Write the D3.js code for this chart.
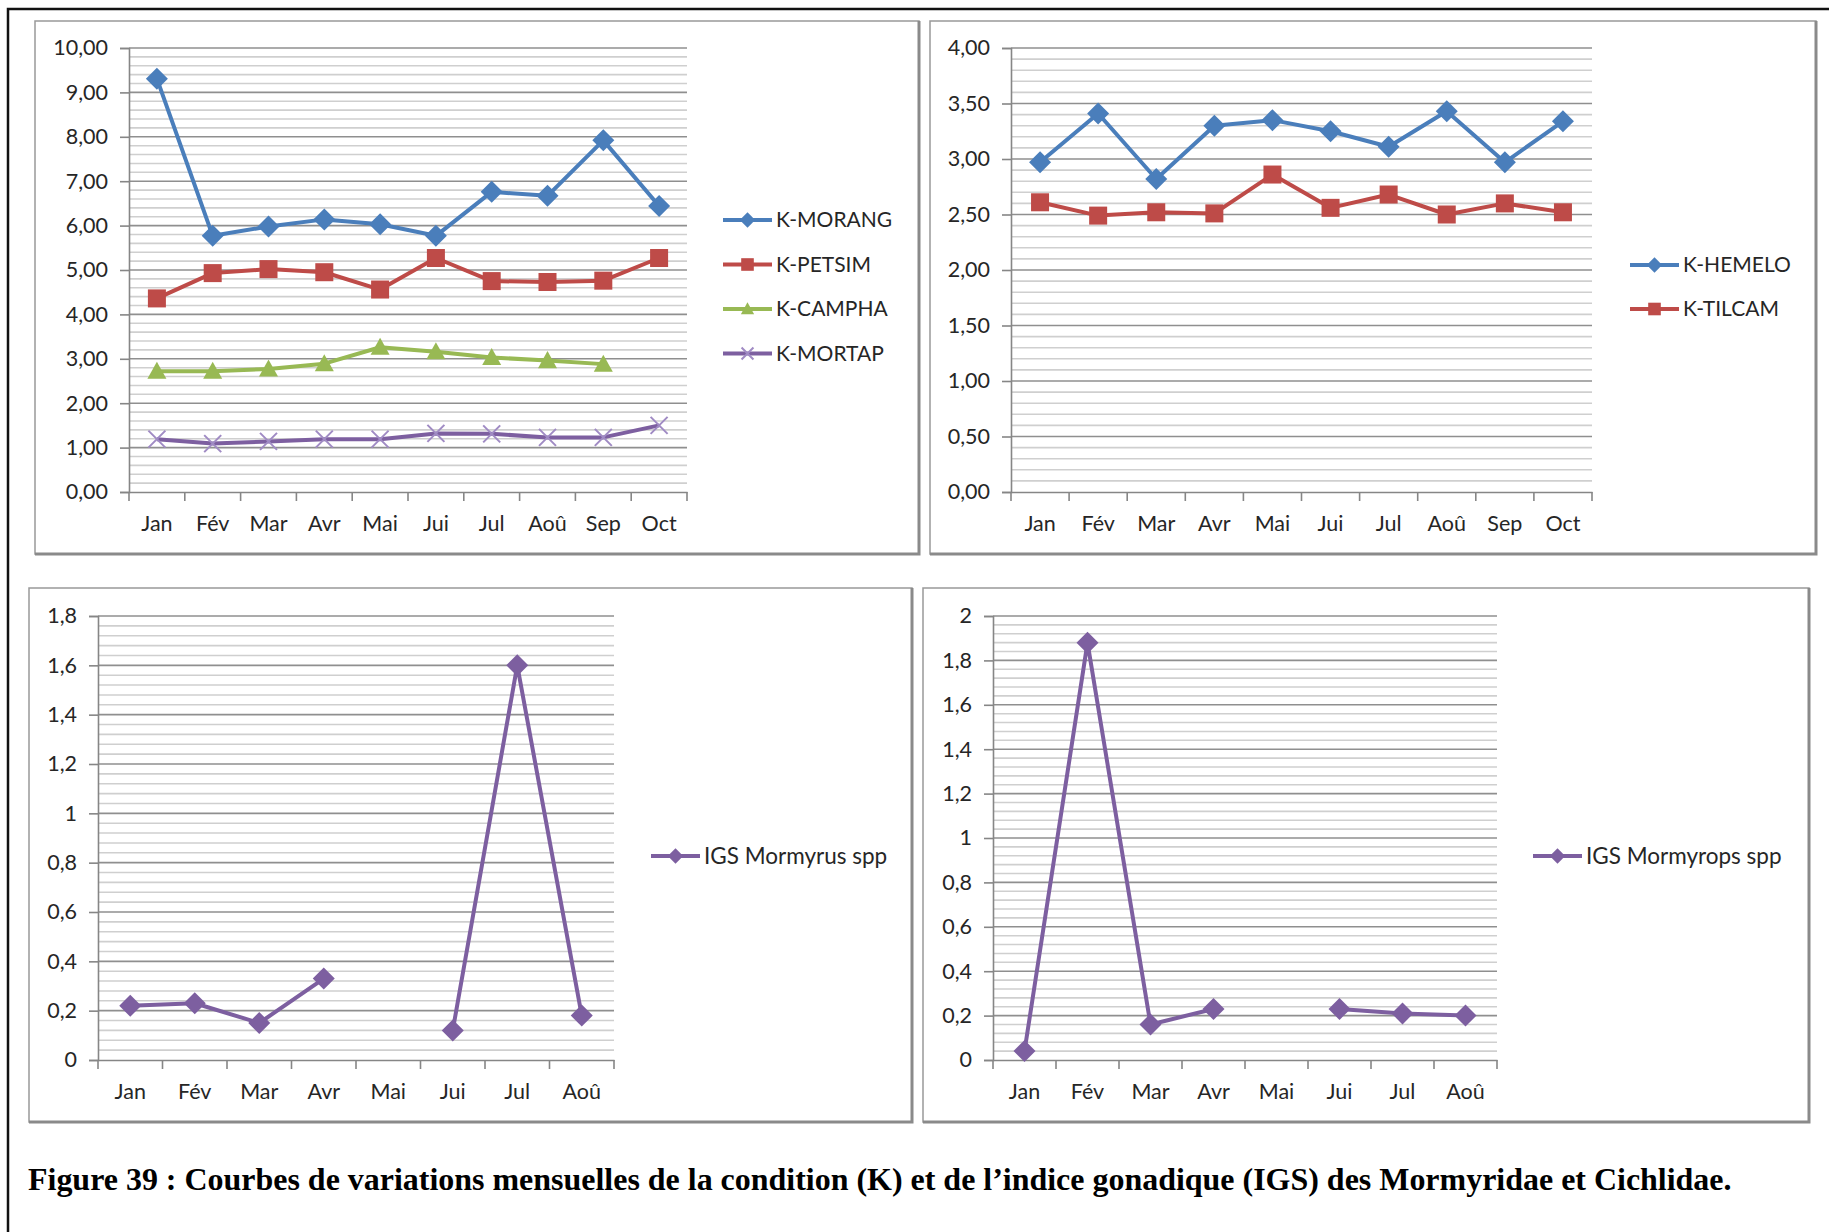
<!DOCTYPE html>
<html><head><meta charset="utf-8">
<script src="https://cdn.jsdelivr.net/npm/d3@7"></script>
<style>
html,body{margin:0;padding:0;background:#fff;}
svg{display:block;}
</style></head>
<body>
<svg id="fig" width="1829" height="1232"></svg>
<script>
// ---------- DATA ----------
const monthsK = ["Jan","Fév","Mar","Avr","Mai","Jui","Jul","Aoû","Sep","Oct"];
const monthsIGS = ["Jan","Fév","Mar","Avr","Mai","Jui","Jul","Aoû"];

const kMorang = [9.31, 5.77, 5.98, 6.14, 6.03, 5.77, 6.76, 6.67, 7.92, 6.44];
const kPetsim = [4.36, 4.93, 5.02, 4.95, 4.56, 5.27, 4.75, 4.73, 4.76, 5.27];
const kCampha = [2.72, 2.72, 2.77, 2.89, 3.26, 3.16, 3.03, 2.96, 2.88, null];
const kMortap = [1.19, 1.09, 1.14, 1.19, 1.19, 1.32, 1.31, 1.23, 1.23, 1.50];

const kHemelo = [2.97, 3.41, 2.82, 3.30, 3.35, 3.25, 3.11, 3.43, 2.97, 3.34];
const kTilcam = [2.61, 2.49, 2.52, 2.51, 2.86, 2.56, 2.68, 2.50, 2.60, 2.52];

const igsMormyrus  = [0.22, 0.23, 0.15, 0.33, null, 0.12, 1.60, 0.18];
const igsMormyrops = [0.04, 1.88, 0.16, 0.23, null, 0.23, 0.21, 0.20];

const ticksK1 = [0,1,2,3,4,5,6,7,8,9,10];
const ticksK2 = [0,0.5,1,1.5,2,2.5,3,3.5,4];
const ticksIGS1 = [0,0.2,0.4,0.6,0.8,1,1.2,1.4,1.6,1.8];
const ticksIGS2 = [0,0.2,0.4,0.6,0.8,1,1.2,1.4,1.6,1.8,2];

const captionText = "Figure 39 : Courbes de variations mensuelles de la condition (K) et de l\u2019indice gonadique (IGS) des Mormyridae et Cichlidae.";

// ---------- STYLE ----------
const C = {blue:"#4A7EBB", red:"#BE4B48", green:"#98B954", purple:"#7D5FA0", purpleLight:"#A08BC4"};
const FONT = "Lato, 'Open Sans', sans-serif";
const svg = d3.select("#fig");

const fmt2 = v => d3.format(".2f")(v).replace(".", ",");
const fmtG = v => String(+v.toFixed(2)).replace(".", ",");

function marker(g, type, x, y, color, s) {
  s = s || 1;
  if (type === "diamond") {
    const r = 11 * s;
    g.append("path").attr("d", `M${x},${y-r}L${x+r},${y}L${x},${y+r}L${x-r},${y}Z`).attr("fill", color);
  } else if (type === "square") {
    const h = 9 * s;
    g.append("rect").attr("x", x-h).attr("y", y-h).attr("width", 2*h).attr("height", 2*h).attr("fill", color);
  } else if (type === "triangle") {
    const h = 9.5 * s;
    g.append("path").attr("d", `M${x},${y-h}L${x+h},${y+h*0.8}L${x-h},${y+h*0.8}Z`).attr("fill", color);
  } else if (type === "x") {
    const h = 8.5 * s;
    g.append("path").attr("d", `M${x-h},${y-h}L${x+h},${y+h}M${x-h},${y+h}L${x+h},${y-h}`)
      .attr("stroke", C.purpleLight).attr("stroke-width", 2).attr("fill", "none");
  }
}

function panel(cfg) {
  const g = svg.append("g");
  const b = cfg.box;
  g.append("rect").attr("x", b[0]).attr("y", b[1]).attr("width", b[2]-b[0]).attr("height", b[3]-b[1])
    .attr("fill", "#fff").attr("stroke", "#999").attr("stroke-width", 1.5);
  g.append("path").attr("d", `M${b[2]},${b[1]}L${b[2]},${b[3]}L${b[0]},${b[3]}`)
    .attr("stroke", "#8a8a8a").attr("stroke-width", 3).attr("fill", "none");

  const p = cfg.plot;
  const x = d3.scaleBand().domain(cfg.cats).range([p[0], p[2]]);
  const y = d3.scaleLinear().domain([0, cfg.ticks[cfg.ticks.length-1]]).range([p[3], p[1]]);

  const step = cfg.ticks[1] - cfg.ticks[0];
  const minor = [];
  for (let i = 0; i < cfg.ticks.length - 1; i++)
    for (let k = 1; k < 5; k++) minor.push(cfg.ticks[i] + step * k / 5);
  g.append("g").selectAll("line").data(minor).join("line")
    .attr("x1", p[0]).attr("x2", p[2]).attr("y1", d => y(d)).attr("y2", d => y(d))
    .attr("stroke", "#cfcfcf").attr("stroke-width", 1.6);
  g.append("g").selectAll("line").data(cfg.ticks.slice(1)).join("line")
    .attr("x1", p[0]).attr("x2", p[2]).attr("y1", d => y(d)).attr("y2", d => y(d))
    .attr("stroke", "#8f8f8f").attr("stroke-width", 1.6);

  const ya = g.append("g").attr("transform", `translate(${p[0]},0)`)
    .call(d3.axisLeft(y).tickValues(cfg.ticks).tickFormat(cfg.fmt).tickSize(9).tickPadding(12));
  ya.select(".domain").attr("stroke", "#868686").attr("stroke-width", 1.6);
  ya.selectAll(".tick line").attr("stroke", "#868686").attr("stroke-width", 1.6);
  ya.selectAll("text").attr("font-family", FONT).attr("font-size", 21.5).attr("fill", "#262626");

  const xa = g.append("g").attr("transform", `translate(0,${p[3]})`)
    .call(d3.axisBottom(x).tickSize(0).tickPadding(24));
  xa.select(".domain").attr("stroke", "#868686").attr("stroke-width", 1.6);
  xa.selectAll("text").attr("font-family", FONT).attr("font-size", 21.5).attr("fill", "#262626");
  const bounds = cfg.cats.map(c => x(c)).concat([p[2]]);
  g.append("g").selectAll("line").data(bounds).join("line")
    .attr("x1", d => d).attr("x2", d => d).attr("y1", p[3]).attr("y2", p[3] + 9)
    .attr("stroke", "#868686").attr("stroke-width", 1.6);

  cfg.series.forEach(s => {
    const pts = s.values.map((v, i) => ({c: cfg.cats[i], v}));
    const line = d3.line().defined(d => d.v != null)
      .x(d => x(d.c) + x.bandwidth()/2).y(d => y(d.v));
    g.append("path").datum(pts).attr("d", line).attr("fill", "none")
      .attr("stroke", s.color).attr("stroke-width", 4).attr("stroke-linejoin", "round");
    const mg = g.append("g");
    pts.filter(d => d.v != null).forEach(d => marker(mg, s.marker, x(d.c) + x.bandwidth()/2, y(d.v), s.color));
  });

  cfg.series.forEach((s, i) => {
    const ly = cfg.legend.y0 + i * cfg.legend.dy;
    const lx = cfg.legend.x;
    g.append("line").attr("x1", lx).attr("x2", lx + 49).attr("y1", ly).attr("y2", ly)
      .attr("stroke", s.color).attr("stroke-width", 4);
    marker(g, s.marker, lx + 24.5, ly, s.color, 0.7);
    g.append("text").attr("x", lx + 53).attr("y", ly).attr("dy", "0.35em")
      .attr("font-family", FONT).attr("font-size", cfg.legend.fs).attr("fill", "#262626").text(s.name);
  });
}

svg.append("path").attr("d", "M8,1232L8,9L1829,9").attr("fill", "none")
  .attr("stroke", "#111").attr("stroke-width", 2.5);

panel({
  box: [35, 21, 919, 554], plot: [129, 48, 687, 492], cats: monthsK, ticks: ticksK1, fmt: fmt2,
  series: [
    {name: "K-MORANG", values: kMorang, color: C.blue, marker: "diamond"},
    {name: "K-PETSIM", values: kPetsim, color: C.red, marker: "square"},
    {name: "K-CAMPHA", values: kCampha, color: C.green, marker: "triangle"},
    {name: "K-MORTAP", values: kMortap, color: C.purple, marker: "x"}
  ],
  legend: {x: 723, y0: 220, dy: 44.5, fs: 21}
});

panel({
  box: [930, 21, 1816, 554], plot: [1011, 48, 1592, 492], cats: monthsK, ticks: ticksK2, fmt: fmt2,
  series: [
    {name: "K-HEMELO", values: kHemelo, color: C.blue, marker: "diamond"},
    {name: "K-TILCAM", values: kTilcam, color: C.red, marker: "square"}
  ],
  legend: {x: 1630, y0: 265, dy: 44, fs: 21}
});

panel({
  box: [29, 588, 912, 1122], plot: [98, 616, 614, 1060], cats: monthsIGS, ticks: ticksIGS1, fmt: fmtG,
  series: [
    {name: "IGS Mormyrus spp", values: igsMormyrus, color: C.purple, marker: "diamond"}
  ],
  legend: {x: 651, y0: 856, dy: 44, fs: 22.5}
});

panel({
  box: [923, 588, 1809, 1122], plot: [993, 616, 1497, 1060], cats: monthsIGS, ticks: ticksIGS2, fmt: fmtG,
  series: [
    {name: "IGS Mormyrops spp", values: igsMormyrops, color: C.purple, marker: "diamond"}
  ],
  legend: {x: 1533, y0: 856, dy: 44, fs: 22.5}
});

const cap = svg.append("text").attr("x", 28).attr("y", 1190)
  .attr("font-family", "'Liberation Serif', 'Times New Roman', serif").attr("font-weight", "bold")
  .attr("font-size", 30).attr("fill", "#000").text(captionText);
const w = cap.node().getComputedTextLength();
cap.attr("font-size", 30 * 1704 / w);
</script>
</body></html>
